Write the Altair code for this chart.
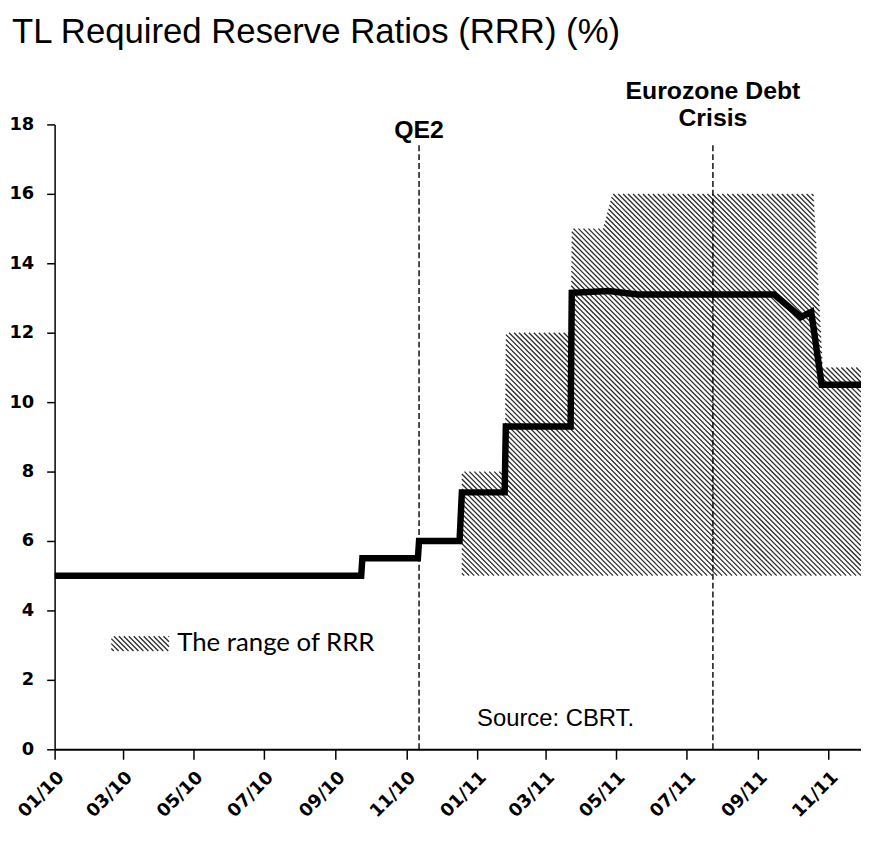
import altair as alt
import numpy as np
import pandas as pd

# ---------------- data ----------------
title_text = ["TL Required Reserve Ratios (RRR) (%)"]

line_dates = ["2010-01-01", "2010-09-23", "2010-09-24", "2010-11-11", "2010-11-12",
              "2010-12-17", "2010-12-19", "2011-01-25", "2011-01-26", "2011-03-23",
              "2011-03-24", "2011-04-25", "2011-05-20", "2011-09-15", "2011-10-08",
              "2011-10-17", "2011-10-26", "2011-11-29"]
line_values = [5.0, 5.0, 5.5, 5.5, 6.0, 6.0, 7.4, 7.4, 9.3, 9.3,
               13.15, 13.2, 13.1, 13.1, 12.45, 12.6, 10.5, 10.5]

range_dates = ["2010-12-19", "2011-01-25", "2011-01-26", "2011-03-23", "2011-03-24",
               "2011-04-20", "2011-04-28", "2011-10-19", "2011-10-27", "2011-11-29"]
range_upper = [8, 8, 12, 12, 15, 15, 16, 16, 11, 11]
range_lower = [5, 5, 5, 5, 5, 5, 5, 5, 5, 5]

event_dates = ["2010-11-12", "2011-07-24"]
event_top = [17.4, 17.4]
event_bottom = [0, 0]

label_dates = ["2010-11-12", "2011-07-24", "2011-07-24"]
label_values = [17.83, 18.97, 18.17]
label_texts = ["QE2", "Eurozone Debt", "Crisis"]

source_text = ["Source: CBRT."]
source_date = ["2011-03-10"]
source_value = [0.86]

legend_text = ["The range of RRR"]
legend_box_start = ["2010-02-19"]
legend_box_end = ["2010-04-10"]
legend_box_low = [2.83]
legend_box_high = [3.26]
legend_text_date = ["2010-04-17"]
legend_text_value = [3.06]

domain_start = "2010-01-01"
domain_end = "2011-11-29"
tick_dates = [(2010, m) for m in (1, 3, 5, 7, 9, 11)] + [(2011, m) for m in (1, 3, 5, 7, 9, 11)]
y_ticks = [0, 2, 4, 6, 8, 10, 12, 14, 16, 18]

# ---------------- layout / style ----------------
W, H = 813, 630
Y_MAX = 18
HATCH_STEP = 5.0   # horizontal spacing of hatch lines, px

t0 = pd.Timestamp(domain_start)
n_days = (pd.Timestamp(domain_end) - t0).days
kx = W / n_days          # px per day
ky = H / Y_MAX           # px per unit


def to_px_x(dates):
    return np.array([(pd.Timestamp(d) - t0).days for d in dates], dtype=float) * kx


def hatch_segments(xp, up, lo, step=HATCH_STEP, res=0.2):
    """Diagonal '\\' hatch lines clipped to the band lo(x) <= y <= up(x) (pixel-like units)."""
    xs = np.arange(xp[0], xp[-1] + 1e-9, res)
    U = np.interp(xs, xp, up)
    L = np.interp(xs, xp, lo)
    segs = []
    cs = np.arange(xp[0] + L.min() + step / 2, xp[-1] + U.max(), step)
    for c in cs:
        Y = c - xs
        inside = (Y <= U) & (Y >= L)
        if not inside.any():
            continue
        idx = np.flatnonzero(inside)
        breaks = np.flatnonzero(np.diff(idx) > 1)
        starts = np.r_[idx[0], idx[breaks + 1]]
        ends = np.r_[idx[breaks], idx[-1]]
        for a, b in zip(starts, ends):
            if b - a < 1:
                continue
            segs.append((xs[a], Y[a], xs[b], Y[b]))
    ms0 = t0.value // 10**6
    rows = []
    for xa, ya, xb, yb in segs:
        rows.append({"x1": ms0 + xa / kx * 86400000, "x2": ms0 + xb / kx * 86400000,
                     "y1": ya / ky, "y2": yb / ky})
    return pd.DataFrame(rows)


range_hatch = hatch_segments(to_px_x(range_dates),
                             np.array(range_upper, float) * ky,
                             np.array(range_lower, float) * ky)
legend_hatch = hatch_segments(to_px_x([legend_box_start[0], legend_box_end[0]]),
                              np.array([legend_box_high[0]] * 2) * ky,
                              np.array([legend_box_low[0]] * 2) * ky)
hatch_df = pd.concat([range_hatch, legend_hatch], ignore_index=True)

line_df = pd.DataFrame({"date": line_dates, "value": line_values})
event_df = pd.DataFrame({"date": event_dates, "top": event_top, "bottom": event_bottom})
label_df = pd.DataFrame({"date": label_dates, "value": label_values, "text": label_texts})
source_df = pd.DataFrame({"date": source_date, "value": source_value, "text": source_text})
legtxt_df = pd.DataFrame({"date": legend_text_date, "value": legend_text_value, "text": legend_text})
title_df = pd.DataFrame({"text": title_text})

x_scale = alt.Scale(type="utc", domain=[alt.DateTime(year=2010, month=1, date=1, utc=True),
                                         alt.DateTime(year=2011, month=11, date=29, utc=True)])
y_scale = alt.Scale(domain=[0, Y_MAX], nice=False)

x_axis = alt.Axis(values=[alt.DateTime(year=y, month=m, date=1, utc=True) for y, m in tick_dates],
                  format="%m/%y", labelAngle=-45, labelFont="DejaVu Sans", labelFontWeight="bold",
                  labelFontSize=18, labelColor="black", tickColor="black", tickSize=10,
                  tickWidth=1.5, domainColor="black", domainWidth=2, grid=False, title=None,
                  labelPadding=9, labelOverlap=False)
y_axis = alt.Axis(values=y_ticks, labelFont="DejaVu Sans", labelFontWeight="bold",
                  labelFontSize=18, labelColor="black", tickColor="black", tickSize=8,
                  tickWidth=1.5, domainColor="black", domainWidth=1.5, grid=False, title=None,
                  labelPadding=13)

hatch = alt.Chart(hatch_df).mark_rule(color="#2a2a2a", strokeWidth=1.3, strokeCap="butt").encode(
    x=alt.X("x1:T", scale=x_scale, axis=x_axis),
    x2="x2:T",
    y=alt.Y("y1:Q", scale=y_scale, axis=y_axis),
    y2="y2:Q",
)

rules = alt.Chart(event_df).mark_rule(color="black", strokeWidth=1.4, strokeDash=[6, 3]).encode(
    x="date:T", y="top:Q", y2="bottom:Q"
)

line = alt.Chart(line_df).mark_line(color="black", strokeWidth=6.5, strokeJoin="miter",
                                    strokeCap="butt").encode(
    x="date:T", y="value:Q"
)

labels = alt.Chart(label_df).mark_text(font="Liberation Sans", fontWeight="bold", fontSize=25,
                                       color="black", align="center", baseline="middle").encode(
    x="date:T", y="value:Q", text="text:N"
)

source = alt.Chart(source_df).mark_text(font="Liberation Sans", fontSize=24, color="black",
                                        align="center", baseline="middle").encode(
    x="date:T", y="value:Q", text="text:N"
)

legtxt = alt.Chart(legtxt_df).mark_text(font="Lato", fontSize=26, color="black",
                                        align="left", baseline="middle").encode(
    x="date:T", y="value:Q", text="text:N"
)

title = alt.Chart(title_df).mark_text(font="Liberation Sans", fontSize=35, color="black",
                                      align="left", baseline="alphabetic").encode(
    x=alt.value(-43), y=alt.value(-82), text="text:N"
)

chart = alt.layer(hatch, rules, line, labels, source, legtxt, title).properties(
    width=W, height=H,
    padding={"left": 47, "top": 114, "right": 0, "bottom": 76},
    autosize=alt.AutoSizeParams(type="none"),
    background="white",
).configure_view(strokeWidth=0)

chart.save("out.html", embed_options={"renderer": "svg", "actions": False})
